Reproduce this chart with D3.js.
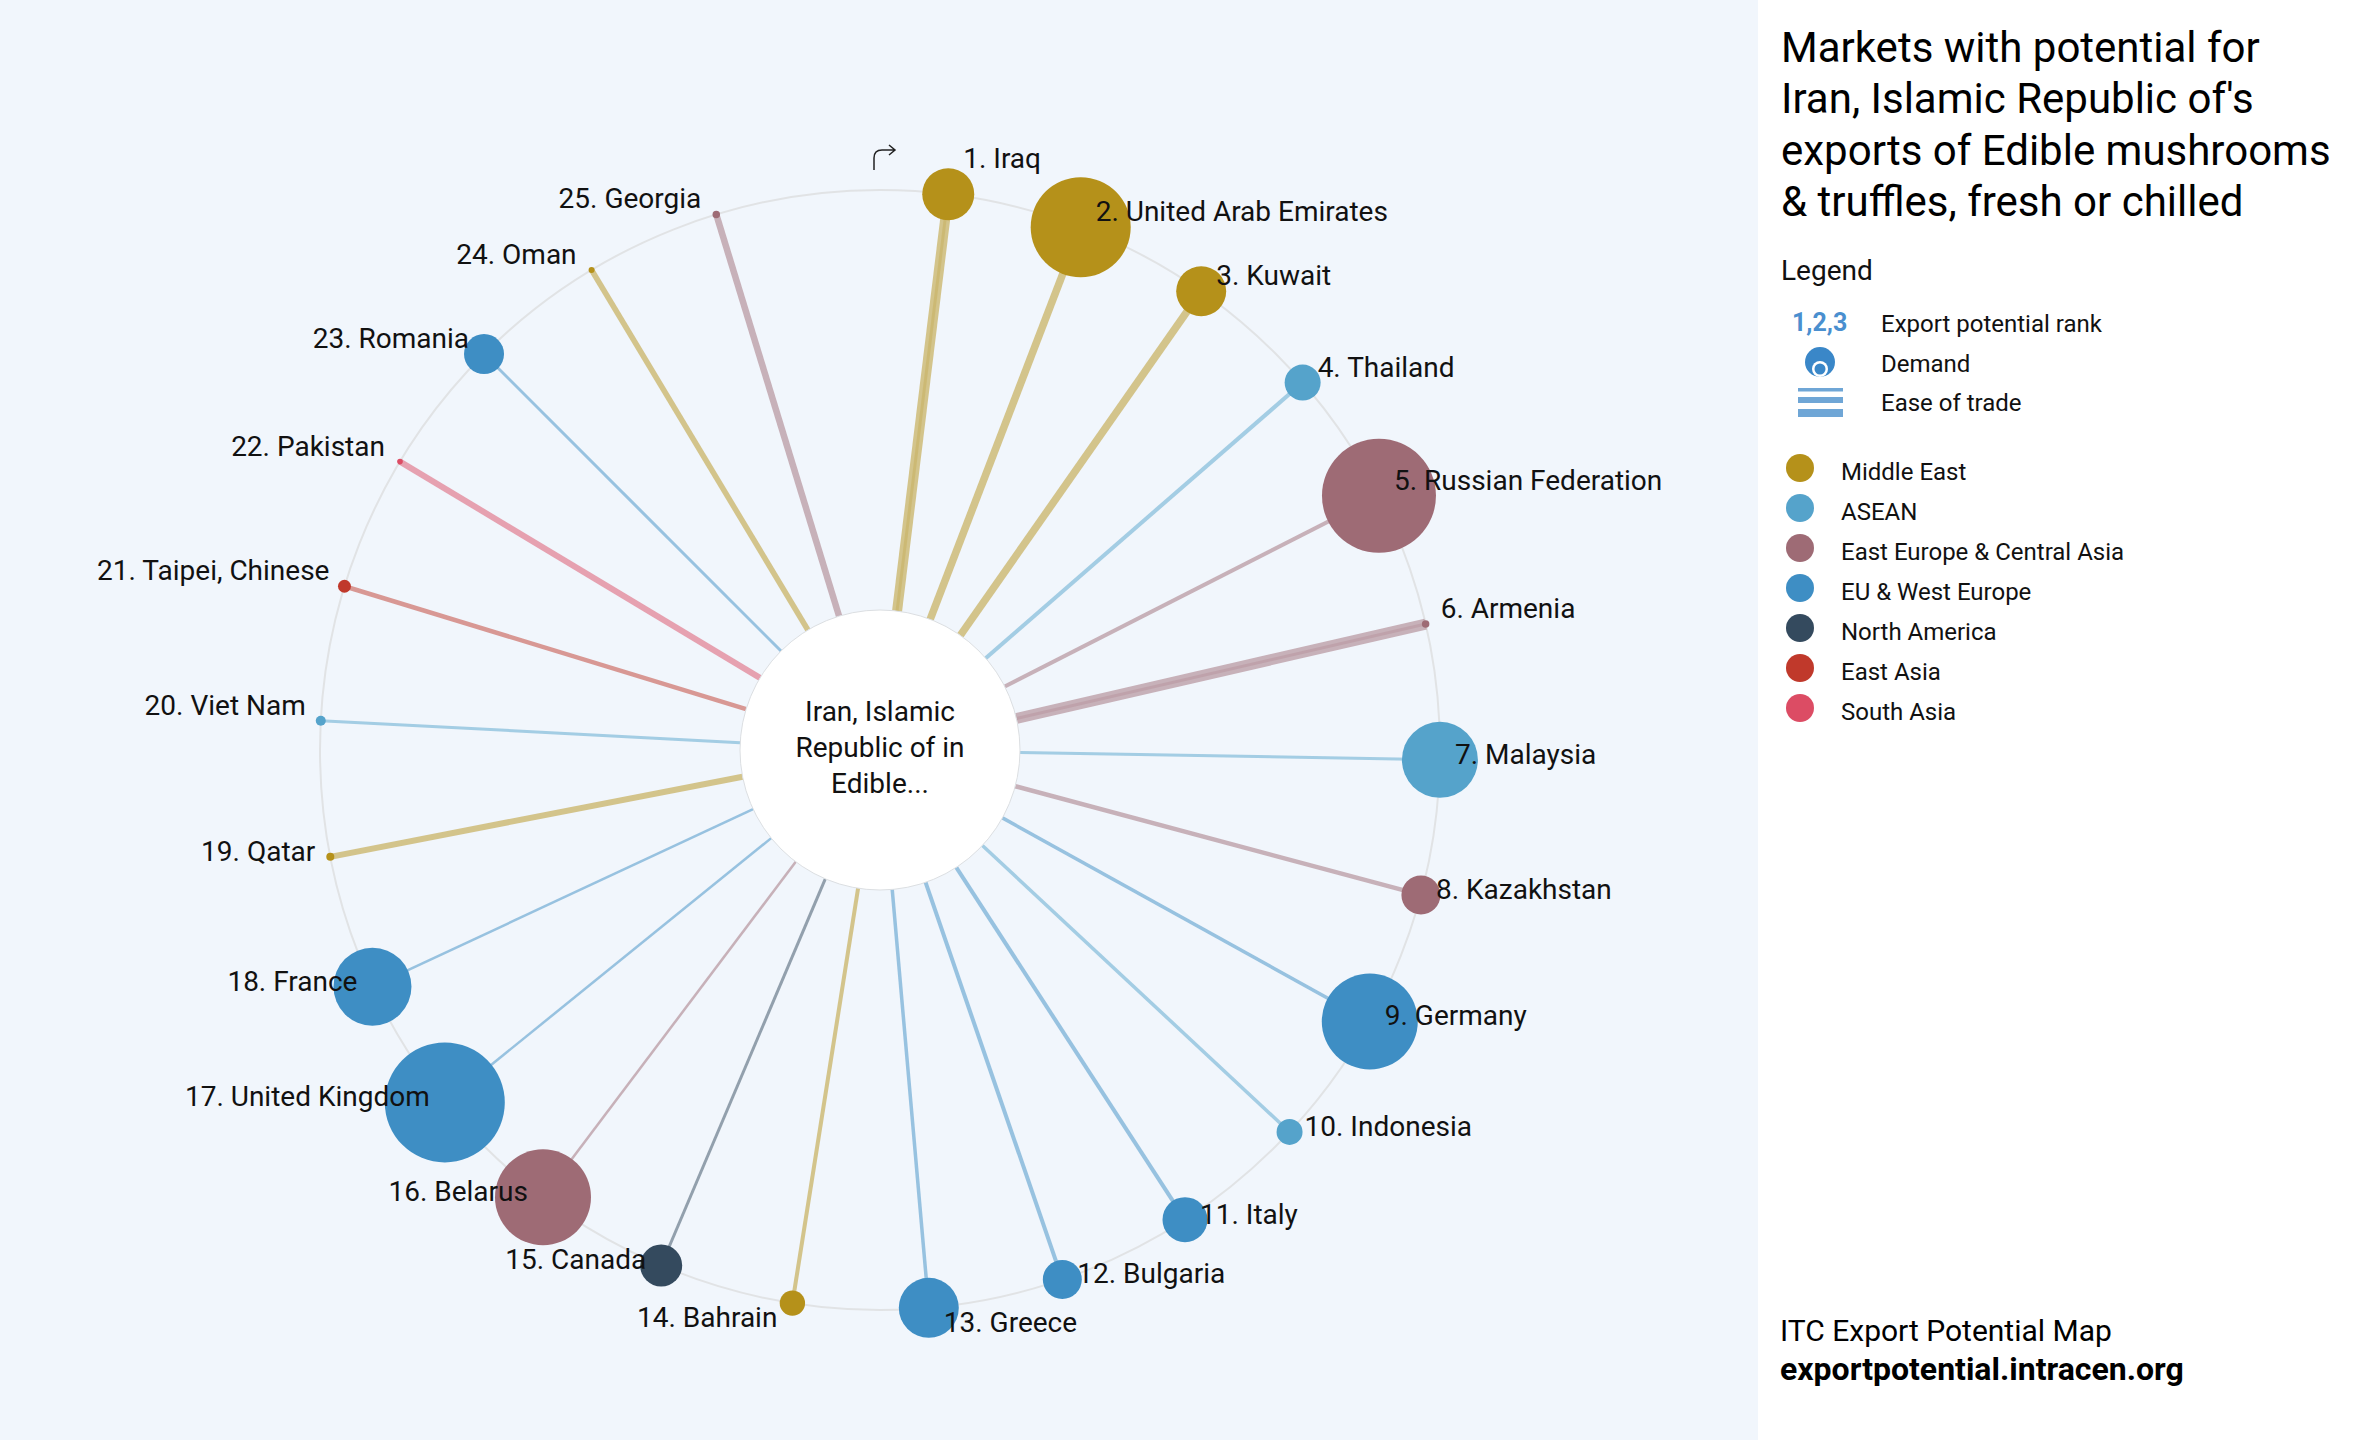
<!DOCTYPE html>
<html>
<head>
<meta charset="utf-8">
<script src="https://cdn.jsdelivr.net/npm/d3@7"></script>
<style>
  body { margin: 0; background: #ffffff; }
  svg { display: block; font-family: Roboto, "Noto Sans", sans-serif; }
</style>
</head>
<body>
<div id="chart"></div>
<script>
// chart data
var markets = ["Iraq", "United Arab Emirates", "Kuwait", "Thailand", "Russian Federation",
    "Armenia", "Malaysia", "Kazakhstan", "Germany", "Indonesia", "Italy", "Bulgaria", "Greece",
    "Bahrain", "Canada", "Belarus", "United Kingdom", "France", "Qatar", "Viet Nam",
    "Taipei, Chinese", "Pakistan", "Romania", "Oman", "Georgia"];
var marketRegion = ["Middle East", "Middle East", "Middle East", "ASEAN", "East Europe & Central Asia",
    "East Europe & Central Asia", "ASEAN", "East Europe & Central Asia", "EU & West Europe", "ASEAN",
    "EU & West Europe", "EU & West Europe", "EU & West Europe", "Middle East", "North America",
    "East Europe & Central Asia", "EU & West Europe", "EU & West Europe", "Middle East", "ASEAN",
    "East Asia", "South Asia", "EU & West Europe", "Middle East", "East Europe & Central Asia"];
// demand (bubble size) and ease of trade (link width)
var demand = [676, 2500, 625, 324, 3249, 14, 1444, 380, 2304, 169, 506, 380, 900,
    161, 441, 2304, 3600, 1521, 16, 25, 42, 8, 400, 9, 14];
var easeOfTrade = [10, 7.5, 7.5, 4, 4, 11, 3, 4.5, 3.5, 3.5, 4, 4, 3.5,
    4, 3, 2.5, 2.5, 2.5, 6, 3, 4.5, 6, 3, 5.5, 6.5];

var regionNames = ["Middle East", "ASEAN", "East Europe & Central Asia", "EU & West Europe",
    "North America", "East Asia", "South Asia"];
var regionColors = ["#b5911a", "#55a3cb", "#9e6b75", "#3e8ec4", "#344a5e", "#c0392b", "#dc4c64"];

var titleLines = ["Markets with potential for", "Iran, Islamic Republic of's",
    "exports of Edible mushrooms", "& truffles, fresh or chilled"];
var centerLines = ["Iran, Islamic", "Republic of in", "Edible..."];
var keyLabels = ["Export potential rank", "Demand", "Ease of trade"];

// svg size
var svgWidth = 2360;
var svgHeight = 1440;
var panelX = 1758;

var svg = d3.select("#chart")
    .append("svg")
    .attr("width", svgWidth)
    .attr("height", svgHeight);

svg.append("rect")
    .attr("width", panelX)
    .attr("height", svgHeight)
    .attr("fill", "#f1f6fc");

// radial layout
var cx = 880, cy = 750;
var ringR = 560, innerR = 140;

var angle = d3.scalePoint().domain(markets).range([7, 343]);
var rScale = d3.scaleSqrt().domain([0, 3600]).range([0, 60]);
var wScale = d3.scaleLinear().domain([0, 10]).range([0, 10]);
var color = d3.scaleOrdinal().domain(regionNames).range(regionColors);

var nodes = markets.map(function (m, i) {
    var a = angle(m) * Math.PI / 180;
    return {
        name: m, rank: i + 1, region: marketRegion[i],
        a: a,
        x: cx + ringR * Math.sin(a),
        y: cy - ringR * Math.cos(a),
        r: rScale(demand[i]),
        w: wScale(easeOfTrade[i])
    };
});

var chart = svg.append("g");

// outer ring
chart.append("circle")
    .attr("cx", cx).attr("cy", cy).attr("r", ringR)
    .attr("fill", "none")
    .attr("stroke", "#e1e3e5")
    .attr("stroke-width", 2);

// links
chart.selectAll(".link")
    .data(nodes)
    .enter()
    .append("line")
    .attr("class", "link")
    .attr("x1", d => cx + innerR * Math.sin(d.a))
    .attr("y1", d => cy - innerR * Math.cos(d.a))
    .attr("x2", d => d.x)
    .attr("y2", d => d.y)
    .attr("stroke", d => color(d.region))
    .attr("stroke-opacity", 0.5)
    .attr("stroke-width", d => d.w);

// darker core on the widest links
chart.selectAll(".core")
    .data(nodes.filter(d => d.w >= 8))
    .enter()
    .append("line")
    .attr("class", "core")
    .attr("x1", d => cx + innerR * Math.sin(d.a))
    .attr("y1", d => cy - innerR * Math.cos(d.a))
    .attr("x2", d => d.x)
    .attr("y2", d => d.y)
    .attr("stroke", d => color(d.region))
    .attr("stroke-opacity", 0.2)
    .attr("stroke-width", 3);

// centre
chart.append("circle")
    .attr("cx", cx).attr("cy", cy).attr("r", innerR)
    .attr("fill", "#ffffff")
    .attr("stroke", "#dcdfe2")
    .attr("stroke-width", 1);

chart.selectAll(".center-text")
    .data(centerLines)
    .enter()
    .append("text")
    .attr("x", cx)
    .attr("y", (d, i) => 721 + i * 36)
    .attr("text-anchor", "middle")
    .style("font-size", "28px")
    .style("fill", "#111")
    .text(d => d);

// start arrow
chart.append("path")
    .attr("d", "M874,170 L874,158 Q874,150 882,150 L895,150 M889,145 L895,150 L889,155")
    .attr("fill", "none")
    .attr("stroke", "#222")
    .attr("stroke-width", 1.5);

// bubbles
chart.selectAll(".bubble")
    .data(nodes)
    .enter()
    .append("circle")
    .attr("class", "bubble")
    .attr("cx", d => d.x)
    .attr("cy", d => d.y)
    .attr("r", d => d.r)
    .attr("fill", d => color(d.region));

// labels
var labels = chart.selectAll(".label")
    .data(nodes)
    .enter()
    .append("text")
    .attr("class", "label")
    .attr("x", d => d.a < Math.PI ? d.x + 15 : d.x - 15)
    .attr("y", d => Math.cos(d.a) > 0 ? d.y - 6 : d.y + 4)
    .attr("text-anchor", d => d.a < Math.PI ? "start" : "end")
    .style("font-size", "28px")
    .style("fill", "#111")
    .text(d => d.rank + ". " + d.name);

// push labels off neighbouring bubbles
labels.each(function (d) {
    var el = d3.select(this);
    var step = Math.cos(d.a) > 0 ? -20 : 20;
    for (var k = 0; k < 4; k++) {
        var b = this.getBBox();
        var hit = nodes.some(function (o) {
            return o !== d &&
                b.x < o.x + o.r - 1 && b.x + b.width > o.x - o.r + 1 &&
                b.y + 1 < o.y + o.r - 1 && b.y + b.height - 1 > o.y - o.r + 1;
        });
        if (!hit) break;
        el.attr("y", +el.attr("y") + step);
    }
});

// right panel
var panel = svg.append("g");

panel.selectAll(".title")
    .data(titleLines)
    .enter()
    .append("text")
    .attr("x", 1781)
    .attr("y", (d, i) => 62 + i * 51.3)
    .style("font-size", "42px")
    .style("fill", "#000")
    .text(d => d);

panel.append("text")
    .attr("x", 1781)
    .attr("y", 280)
    .style("font-size", "28px")
    .style("fill", "#111")
    .text("Legend");

panel.append("text")
    .attr("x", 1792)
    .attr("y", 331)
    .style("font-size", "25px")
    .style("font-weight", "bold")
    .style("fill", "#4a8fcf")
    .text("1,2,3");

panel.append("circle")
    .attr("cx", 1820).attr("cy", 362).attr("r", 15)
    .attr("fill", "#3a87c8");
panel.append("circle")
    .attr("cx", 1820).attr("cy", 369).attr("r", 8)
    .attr("fill", "#ffffff");
panel.append("circle")
    .attr("cx", 1820).attr("cy", 369).attr("r", 5.5)
    .attr("fill", "#3a87c8");

var bars = [[388, 3.5], [397, 6], [409, 8]];
panel.selectAll(".ease-bar")
    .data(bars)
    .enter()
    .append("rect")
    .attr("x", 1798)
    .attr("y", d => d[0])
    .attr("width", 45)
    .attr("height", d => d[1])
    .attr("fill", "#6fa6d6");

panel.selectAll(".key-label")
    .data(keyLabels)
    .enter()
    .append("text")
    .attr("x", 1881)
    .attr("y", (d, i) => 332 + i * 39.5)
    .style("font-size", "24px")
    .style("fill", "#111")
    .text(d => d);

var regionKey = panel.selectAll(".region-key")
    .data(regionNames)
    .enter()
    .append("g")
    .attr("transform", (d, i) => `translate(0, ${i * 40})`);

regionKey.append("circle")
    .attr("cx", 1800)
    .attr("cy", 468)
    .attr("r", 14)
    .attr("fill", d => color(d));

regionKey.append("text")
    .attr("x", 1841)
    .attr("y", 480)
    .style("font-size", "24px")
    .style("fill", "#111")
    .text(d => d);

panel.append("text")
    .attr("x", 1780)
    .attr("y", 1341)
    .style("font-size", "30px")
    .style("fill", "#000")
    .text("ITC Export Potential Map");

panel.append("text")
    .attr("x", 1780)
    .attr("y", 1380)
    .style("font-size", "32px")
    .style("font-weight", "bold")
    .style("fill", "#000")
    .text("exportpotential.intracen.org");
</script>
</body>
</html>
